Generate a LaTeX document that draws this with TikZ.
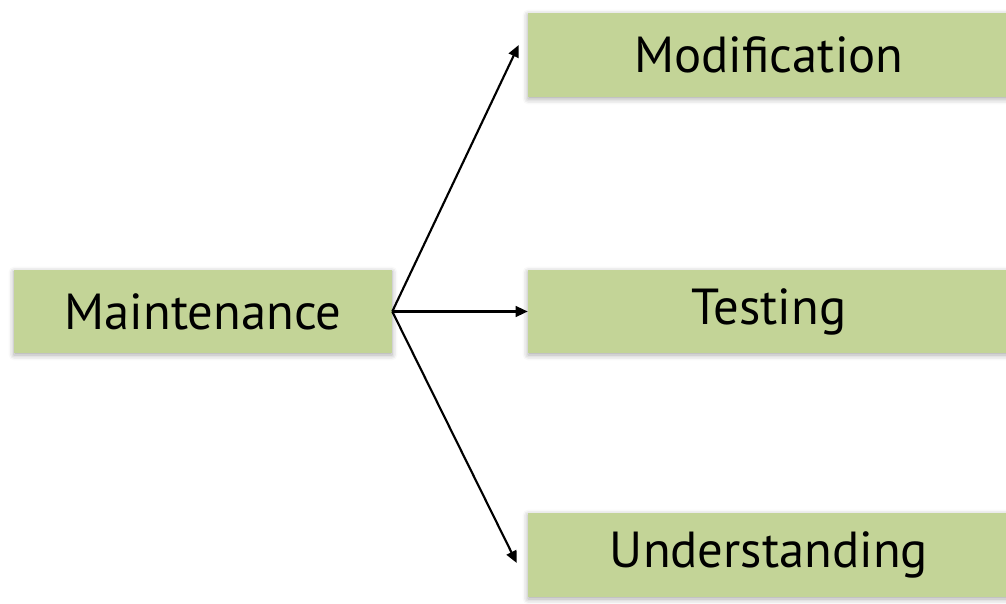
\documentclass[tikz,border=0pt]{standalone}
\usepackage{fontspec}
\setmainfont{PT Sans}
\usetikzlibrary{arrows.meta,shadows.blur}
\definecolor{boxgreen}{RGB}{195,212,151}
\begin{document}
\begin{tikzpicture}[x=0.75pt, y=0.75pt,
  box/.style = {shape=rectangle, fill=boxgreen, inner sep=0pt,
    font=\fontsize{38}{46}\selectfont,
    blur shadow={shadow xshift=0pt, shadow yshift=-1.5pt,
      shadow blur radius=4pt, shadow opacity=35}},
  link/.style = {line width=1.6pt, -{Triangle[length=9pt,width=8pt]}}]
  \useasboundingbox (0,0) rectangle (1006,603);
  \clip (0,0) rectangle (1006,603);
  \node[box, minimum width=283.5pt, minimum height=62.25pt] (maint) at (203,291.5) {Maintenance};
  \node[box, minimum width=361.5pt, minimum height=63pt] (mod) at (769,548) {Modification};
  \node[box, minimum width=361.5pt, minimum height=62.25pt] (test) at (769,291.5) {Testing};
  \node[box, minimum width=361.5pt, minimum height=63pt] (und) at (769,48) {Understanding};
  \draw[link] (maint.east) -- ([shift={(-9,10)}]mod.west);
  \draw[link] (maint.east) -- (test.west);
  \draw[link] (maint.east) -- ([shift={(-11,-8)}]und.west);
\end{tikzpicture}
\end{document}
